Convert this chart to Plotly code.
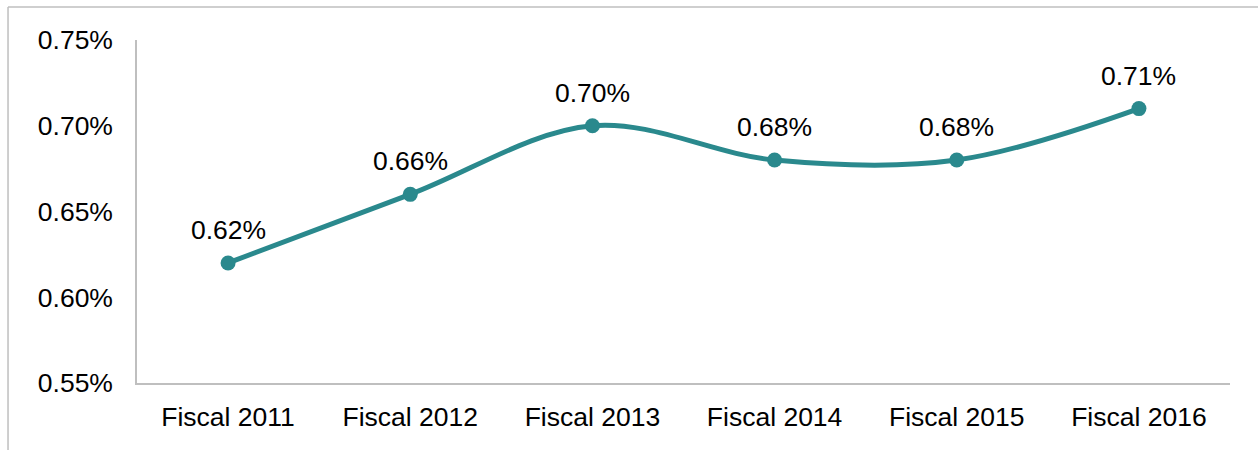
import plotly.graph_objects as go

# Fiscal-year ratio series
categories = ["Fiscal 2011", "Fiscal 2012", "Fiscal 2013", "Fiscal 2014", "Fiscal 2015", "Fiscal 2016"]
values = [0.62, 0.66, 0.70, 0.68, 0.68, 0.71]
y_ticks = [0.55, 0.60, 0.65, 0.70, 0.75]

LINE = "#2A898D"
AXIS = "#BFBFBF"
FONT = dict(family="Liberation Sans, Arial, sans-serif", size=26.5, color="#000000")

fig = go.Figure()
fig.add_trace(go.Scatter(
    x=categories,
    y=values,
    mode="lines+markers",
    line=dict(color=LINE, width=5, shape="spline", smoothing=1.0),
    marker=dict(color=LINE, size=15),
    hoverinfo="skip",
    showlegend=False,
))

# Value labels above each point
for c, v in zip(categories, values):
    fig.add_annotation(
        x=c, y=v, text=f"{v:.2f}%", showarrow=False,
        yanchor="bottom", yshift=16, font=FONT,
    )

# Chart frame: top and left edges of the outer border
frame = dict(color=AXIS, width=1.5)
fig.add_shape(type="line", xref="paper", yref="paper",
              x0=-0.118, x1=1.2, y0=1.096, y1=1.096, line=frame, layer="below")
fig.add_shape(type="line", xref="paper", yref="paper",
              x0=-0.118, x1=-0.118, y0=-0.4, y1=1.096, line=frame, layer="below")

fig.update_layout(
    width=1258, height=450,
    margin=dict(l=137, r=28, t=40, b=67),
    paper_bgcolor="white", plot_bgcolor="white",
    font=FONT,
    xaxis=dict(
        type="category",
        showgrid=False, zeroline=False,
        showline=True, linecolor=AXIS, linewidth=1.5,
        ticks="", ticklabelstandoff=9,
        range=[-0.5, 5.5],
    ),
    yaxis=dict(
        range=[0.55, 0.75],
        tickvals=y_ticks,
        ticktext=[f"{t:.2f}%" for t in y_ticks],
        showgrid=False, zeroline=False,
        showline=True, linecolor=AXIS, linewidth=1.5,
        ticks="", ticklabelstandoff=17,
    ),
)

fig.write_html("out.html")
